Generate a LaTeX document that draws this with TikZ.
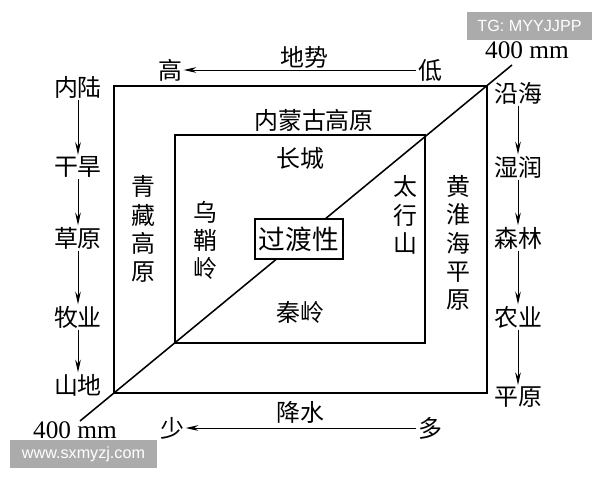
\documentclass[tikz,border=0pt]{standalone}
\usepackage{fontspec}
\setmainfont{Liberation Serif}
\setsansfont{Liberation Sans}
\newfontfamily\cjk{Noto Sans CJK SC}
\usetikzlibrary{arrows.meta}

\begin{document}
\begin{tikzpicture}[x=0.025cm, y=-0.025cm,
    zi/.style={font=\cjk\fontsize{17}{20}\selectfont, inner sep=1pt},
    shu/.style={zi, align=center},
    kuang/.style={draw, line width=1.3pt},
    jt/.style={-{Stealth[length=9pt, width=4pt]}, line width=0.7pt},
    shuiyin/.style={fill=black!33, text=white, font=\sffamily\fontsize{11.5}{13}\selectfont, minimum height=0.7cm}]
    \useasboundingbox (0,0) rectangle (600,480);

    % frames and the 400 mm line
    \coordinate (wz) at (114,86);
    \coordinate (wy) at (487,393);
    \coordinate (nz) at (175,135);
    \coordinate (ny) at (425,343);
    \coordinate (xd) at (80,421);
    \coordinate (xs) at (512,65);
    \draw[kuang] (wz) rectangle (wy);
    \draw[kuang] (nz) rectangle (ny);
    \draw[line width=1.1pt] (xd) -- (xs);

    % top: terrain
    \node[zi] (dishi) at (304,57) {地势};
    \node[zi] (gao) at (170,70) {高};
    \node[zi] (di) at (430,70) {低};
    \draw[jt] (di) -- (gao);
    \node[font=\fontsize{18}{20}\selectfont] (mm1) at (527,50) {400 mm};

    % bottom: rainfall
    \node[zi] (jiangshui) at (300,412) {降水};
    \node[zi] (shao) at (172,428) {少};
    \node[zi] (duo) at (430,428) {多};
    \draw[jt] (duo) -- (shao);
    \node[font=\fontsize{18}{20}\selectfont] (mm2) at (75,430) {400 mm};

    % left column
    \node[zi] (neilu) at (78,87) {内陆};
    \node[zi] (ganhan) at (78,167) {干旱};
    \node[zi] (caoyuan) at (78,238) {草原};
    \node[zi] (muye) at (78,317) {牧业};
    \node[zi] (shandi) at (78,385) {山地};
    \draw[jt] (neilu) -- (ganhan);
    \draw[jt] (ganhan) -- (caoyuan);
    \draw[jt] (caoyuan) -- (muye);
    \draw[jt] (muye) -- (shandi);

    % right column
    \node[zi] (yanhai) at (518,93) {沿海};
    \node[zi] (shirun) at (518,167) {湿润};
    \node[zi] (senlin) at (518,238) {森林};
    \node[zi] (nongye) at (518,317) {农业};
    \node[zi] (pingyuan) at (518,397) {平原};
    \draw[jt] (yanhai) -- (shirun);
    \draw[jt] (shirun) -- (senlin);
    \draw[jt] (senlin) -- (nongye);
    \draw[jt] (nongye) -- (pingyuan);

    % regions
    \node[zi] (neimeng) at (314,120) {内蒙古高原};
    \node[zi] (changcheng) at (300,158) {长城};
    \node[zi] (qinling) at (300,312) {秦岭};
    \node[shu] (qingzang) at (143,229) {青\\藏\\高\\原};
    \node[shu] (wushao) at (205,240) {乌\\鞘\\岭};
    \node[shu] (taihang) at (405,215) {太\\行\\山};
    \node[shu] (huanghuai) at (458,243) {黄\\淮\\海\\平\\原};
    \node[zi, draw, fill=white, line width=1.1pt, font=\cjk\fontsize{19}{20}\selectfont,
        minimum width=2.2cm, minimum height=1cm] (guodu) at (299,239) {过渡性};

    % watermarks
    \node[shuiyin, minimum width=3.125cm] (tg) at (529.5,26) {TG: MYYJJPP};
    \node[shuiyin, minimum width=3.675cm] (www) at (83.5,454) {www.sxmyzj.com};
\end{tikzpicture}
\end{document}
